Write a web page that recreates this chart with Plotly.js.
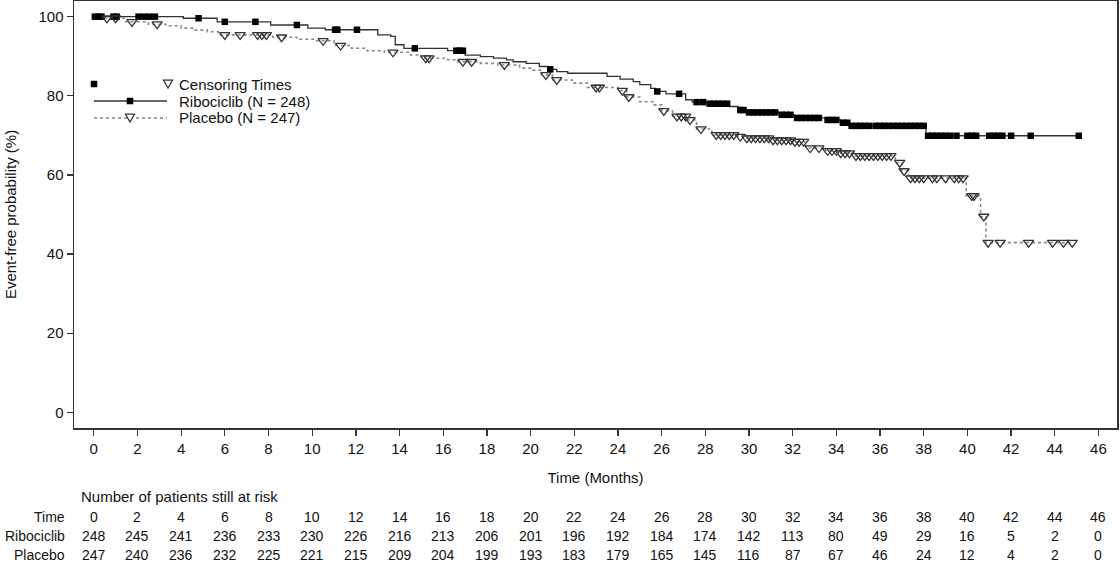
<!DOCTYPE html>
<html><head><meta charset="utf-8">
<script src="https://cdn.plot.ly/plotly-3.0.1.min.js"></script>
<style>html,body{margin:0;padding:0;background:#fff;} #chart{width:1120px;height:564px;}</style>
</head><body><div id="chart"></div>
<script>
// ---- Data ----
const ribEventTime = [0, 4.1, 5.65, 8.1, 9.8, 10.6, 13.0, 13.6, 13.8, 14.2, 16.2, 17.0, 17.7, 18.3, 18.9, 19.2, 19.8, 20.4, 20.8, 21.2, 21.7, 23.5, 24.1, 24.7, 25.0, 25.5, 25.7, 26.2, 27.1, 27.4, 28.1, 29.1, 29.5, 29.9, 31.4, 32.1, 33.5, 34.2, 34.6, 38.1];
const ribSurv = [100, 99.6, 98.7, 97.9, 97.1, 96.7, 95.4, 95.0, 92.9, 92.0, 91.4, 90.3, 89.9, 89.5, 89.1, 88.6, 88.2, 87.4, 86.7, 86.1, 85.7, 84.9, 84.2, 83.6, 82.8, 81.9, 81.1, 80.5, 79.0, 78.4, 78.0, 77.3, 76.4, 75.8, 75.2, 74.4, 73.9, 73.2, 72.4, 69.9];
const ribLastTime = 45.1;
const ribCensorTime = [0.05, 0.2, 0.35, 0.9, 1.05, 2.05, 2.3, 2.55, 2.8, 4.8, 6.0, 7.4, 9.3, 11.05, 11.15, 12.05, 14.7, 16.6, 16.75, 16.9, 20.9, 25.8, 26.8, 27.6, 27.9, 28.2, 28.4, 28.6, 28.8, 29.0, 29.6, 29.75, 30.0, 30.2, 30.4, 30.6, 30.8, 31.0, 31.2, 31.5, 31.7, 31.9, 32.2, 32.4, 32.6, 32.8, 33.0, 33.2, 33.6, 33.8, 34.0, 34.3, 34.5, 34.7, 34.9, 35.1, 35.3, 35.5, 35.8, 36.0, 36.2, 36.4, 36.6, 36.8, 37.0, 37.2, 37.4, 37.6, 37.8, 38.0, 38.2, 38.4, 38.6, 38.8, 39.0, 39.2, 39.5, 40.0, 40.2, 40.4, 41.0, 41.2, 41.4, 41.6, 42.0, 42.9, 45.1];

const plaEventTime = [0, 0.4, 1.4, 2.5, 3.3, 4.0, 4.6, 5.2, 5.7, 8.2, 9.3, 10.2, 11.0, 11.8, 12.5, 13.3, 14.5, 15.0, 16.2, 16.6, 17.7, 18.5, 19.5, 20.1, 20.5, 21.0, 21.9, 22.6, 24.0, 24.4, 25.0, 25.6, 26.0, 26.5, 27.2, 27.6, 28.3, 29.5, 29.8, 31.0, 32.0, 32.6, 33.5, 34.2, 34.8, 36.7, 37.0, 37.3, 39.95, 40.6, 40.85];
const plaSurv = [100, 99.6, 98.7, 98.1, 97.7, 97.1, 96.6, 96.2, 95.4, 94.8, 94.3, 93.9, 92.7, 92.0, 91.4, 91.0, 90.3, 89.5, 89.1, 88.6, 88.2, 87.8, 87.0, 86.5, 85.3, 84.0, 83.2, 82.1, 81.3, 79.7, 78.5, 77.7, 76.2, 74.8, 73.9, 71.6, 70.1, 69.7, 69.3, 68.8, 68.4, 66.8, 66.1, 65.5, 64.8, 63.1, 61.0, 59.2, 54.7, 49.5, 42.9];
const plaLastTime = 44.8;
const plaCensorTime = [0.6, 1.0, 1.75, 2.9, 6.0, 6.7, 7.5, 7.7, 7.9, 8.6, 10.5, 11.3, 13.7, 15.2, 15.35, 16.9, 17.3, 18.8, 20.7, 21.2, 23.0, 23.15, 24.2, 24.5, 26.1, 26.7, 26.9, 27.1, 27.3, 27.8, 28.5, 28.7, 28.9, 29.1, 29.3, 29.6, 29.9, 30.1, 30.3, 30.5, 30.7, 30.9, 31.1, 31.3, 31.5, 31.7, 31.9, 32.1, 32.3, 32.5, 32.8, 33.2, 33.6, 33.8, 34.0, 34.2, 34.4, 34.6, 34.9, 35.1, 35.3, 35.5, 35.7, 35.9, 36.1, 36.3, 36.5, 36.9, 37.1, 37.4, 37.6, 37.8, 38.0, 38.4, 38.6, 39.0, 39.4, 39.6, 39.8, 40.2, 40.3, 40.75, 40.95, 41.5, 42.8, 43.9, 44.4, 44.8];

const riskTimes = [0, 2, 4, 6, 8, 10, 12, 14, 16, 18, 20, 22, 24, 26, 28, 30, 32, 34, 36, 38, 40, 42, 44, 46];
const ribRisk = [248, 245, 241, 236, 233, 230, 226, 216, 213, 206, 201, 196, 192, 184, 174, 142, 113, 80, 49, 29, 16, 5, 2, 0];
const plaRisk = [247, 240, 236, 232, 225, 221, 215, 209, 204, 199, 193, 183, 179, 165, 145, 116, 87, 67, 46, 24, 12, 4, 2, 0];
const yTicks = [0, 20, 40, 60, 80, 100];
const seriesNames = ['Ribociclib (N = 248)', 'Placebo (N = 247)'];
const censorLabel = 'Censoring Times';
const riskHeader = 'Number of patients still at risk';
const riskRowLabels = ['Time', 'Ribociclib', 'Placebo'];

// ---- helpers ----
function survAt(times, surv, t) {
  let s = surv[0];
  for (let i = 0; i < times.length; i++) if (times[i] <= t + 1e-9) s = surv[i];
  return s;
}
const FONT = 'Liberation Sans, Arial, sans-serif';
const TXT = '#111';
const FS = 15, TFS = 14;
const W = 1120, H = 564;
const M = {l: 74, r: 3, t: 1, b: 136};
const PW = W - M.l - M.r, PH = H - M.t - M.b;
const pxX = px => (px - M.l) / PW;
const pxY = py => (H - M.b - py) / PH;
const bottomPx = H - M.b;

const traces = [
  {x: ribEventTime.concat([ribLastTime]), y: ribSurv.concat([ribSurv[ribSurv.length - 1]]),
   mode: 'lines', line: {shape: 'hv', color: '#333', width: 1.3}, hoverinfo: 'skip', showlegend: false},
  {x: plaEventTime.concat([plaLastTime]), y: plaSurv.concat([plaSurv[plaSurv.length - 1]]),
   mode: 'lines', line: {shape: 'hv', color: '#888', width: 1.6, dash: 'dot'}, hoverinfo: 'skip', showlegend: false},
  {x: ribCensorTime, y: ribCensorTime.map(t => survAt(ribEventTime, ribSurv, t)),
   mode: 'markers', marker: {symbol: 'square', size: 6.5, color: '#000'}, showlegend: false},
  {x: plaCensorTime, y: plaCensorTime.map(t => survAt(plaEventTime, plaSurv, t)),
   mode: 'markers', marker: {symbol: 'triangle-down-open', size: 9, color: '#333', line: {width: 1.3}}, showlegend: false}
];

const annotations = [];
// risk table
const headerY = 496.5;
const rowYs = [516.5, 536, 555];
const rowVals = [riskTimes.map(String), ribRisk.map(String), plaRisk.map(String)];
annotations.push({x: 0, xref: 'paper', y: 0, yref: 'paper', xshift: 4.5, yshift: -(headerY - bottomPx),
  text: riskHeader, showarrow: false, xanchor: 'left', yanchor: 'middle', font: {size: FS, color: TXT}});
rowVals.forEach((vals, r) => {
  annotations.push({x: 0, xref: 'paper', y: 0, yref: 'paper', xshift: -7, yshift: -(rowYs[r] - bottomPx),
    text: riskRowLabels[r], showarrow: false, xanchor: 'right', yanchor: 'middle', font: {size: TFS, color: TXT}});
  vals.forEach((v, i) => {
    annotations.push({x: riskTimes[i], xref: 'x', y: 0, yref: 'paper', yshift: -(rowYs[r] - bottomPx),
      text: v, showarrow: false, xanchor: 'center', yanchor: 'middle', font: {size: TFS, color: TXT}});
  });
});
// legend texts
const legRows = [84, 101, 118];
[censorLabel, seriesNames[0], seriesNames[1]].forEach((t, i) => {
  annotations.push({x: pxX(177), xref: 'paper', y: pxY(legRows[i]), yref: 'paper', text: t, showarrow: false,
    xanchor: 'left', yanchor: 'middle', font: {size: FS, color: TXT}});
});

function sq(cx, cy, s) {
  return {type: 'rect', xref: 'paper', yref: 'paper', x0: pxX(cx - s / 2), x1: pxX(cx + s / 2),
    y0: pxY(cy + s / 2), y1: pxY(cy - s / 2), fillcolor: '#000', line: {width: 0}};
}
function tri(cx, cy) {
  const p = [[cx - 4.5, cy - 3.8], [cx + 4.5, cy - 3.8], [cx, cy + 4]];
  return {type: 'path', xref: 'paper', yref: 'paper',
    path: 'M' + p.map(q => pxX(q[0]) + ',' + pxY(q[1])).join('L') + 'Z',
    fillcolor: '#fff', line: {color: '#333', width: 1.3}};
}
const shapes = [
  sq(94, legRows[0], 6.5), tri(168, legRows[0]),
  {type: 'line', xref: 'paper', yref: 'paper', x0: pxX(94), x1: pxX(167), y0: pxY(legRows[1]), y1: pxY(legRows[1]), line: {color: '#333', width: 1.3}},
  sq(130, legRows[1], 6.5),
  {type: 'line', xref: 'paper', yref: 'paper', x0: pxX(94), x1: pxX(167), y0: pxY(legRows[2]), y1: pxY(legRows[2]), line: {color: '#888', width: 1.6, dash: 'dot'}},
  tri(130, legRows[2])
];

const axisCommon = {showline: true, linecolor: '#333', linewidth: 1.5, mirror: true, ticks: 'outside', ticklen: 6,
  tickcolor: '#333', tickwidth: 1.3, showgrid: false, zeroline: false, tickfont: {size: FS, color: TXT}};

const layout = {
  width: W, height: H, margin: M, paper_bgcolor: '#fff', plot_bgcolor: '#fff',
  font: {family: FONT, size: FS, color: TXT}, showlegend: false,
  xaxis: Object.assign({}, axisCommon, {range: [-0.906, 46.85], tickvals: riskTimes, ticktext: riskTimes.map(String),
    title: {text: 'Time (Months)', font: {size: FS, color: TXT}, standoff: 17}}),
  yaxis: Object.assign({}, axisCommon, {range: [-3.96, 103.96], tickvals: yTicks, ticktext: yTicks.map(String),
    title: {text: 'Event-free probability (%)', font: {size: FS, color: TXT}, standoff: 18}}),
  annotations: annotations, shapes: shapes
};
Plotly.newPlot('chart', traces, layout, {displayModeBar: false, staticPlot: true});
</script></body></html>
